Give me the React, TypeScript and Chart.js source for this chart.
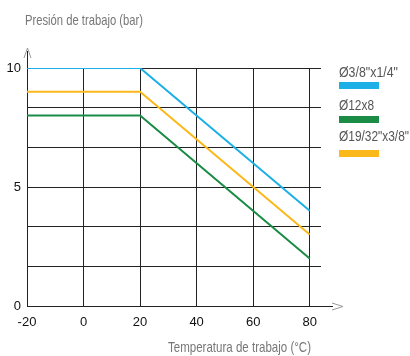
import React, { useEffect, useRef } from "react";
import { Chart, registerables } from "chart.js";

Chart.register(...registerables);

const temps = [-20, 20, 80];
const series1 = [10, 10, 4];
const series2 = [8, 8, 2];
const series3 = [9, 9, 3];
const seriesNames = ["Ø3/8\"x1/4\"", "Ø12x8", "Ø19/32\"x3/8\""];
const seriesColors = ["#1cb0e6", "#1a8c45", "#fbb81a"];
const xTicks = [-20, 0, 20, 40, 60, 80];
const yGrid = [0, 5 / 3, 10 / 3, 5, 20 / 3, 25 / 3, 10];
const yLabels = [0, 5, 10];
const yTitle = "Presión de trabajo (bar)";
const xTitle = "Temperatura de trabajo (°C)";

const SANS = "'Liberation Sans', Arial, sans-serif";

function condensedText(ctx: any, text: string, x: number, y: number, width: number, align: "left" | "right") {
  const w = ctx.measureText(text).width;
  const sx = width / w;
  ctx.save();
  ctx.translate(x, y);
  ctx.scale(sx, 1);
  ctx.textAlign = align;
  ctx.fillText(text, 0, 0);
  ctx.restore();
}

const decor = {
  id: "decor",
  afterDraw(chart: any) {
    const { ctx, chartArea } = chart;
    const { left, right, top, bottom } = chartArea;
    ctx.save();
    // axis extensions
    ctx.strokeStyle = "#222";
    ctx.lineWidth = 1;
    ctx.beginPath();
    ctx.moveTo(left + 0.5, top);
    ctx.lineTo(left + 0.5, top - 17);
    ctx.moveTo(right, bottom + 0.5);
    ctx.lineTo(right + 12, bottom + 0.5);
    ctx.stroke();
    ctx.strokeStyle = "#999";
    ctx.beginPath();
    ctx.moveTo(left - 3, top - 10);
    ctx.lineTo(left + 0.5, top - 20);
    ctx.lineTo(left + 4, top - 10);
    ctx.moveTo(right + 11, bottom - 3);
    ctx.lineTo(right + 22, bottom + 0.5);
    ctx.lineTo(right + 11, bottom + 4);
    ctx.stroke();
    // titles
    ctx.fillStyle = "#777";
    ctx.font = "15px " + SANS;
    ctx.textBaseline = "middle";
    condensedText(ctx, yTitle, 25, 21, 118, "left");
    condensedText(ctx, xTitle, 311, 348, 143, "right");
    // legend
    const barTops = [82, 116, 150];
    const textYs = [73, 106, 137];
    const textWidths = [59, 35, 70];
    ctx.font = "14px " + SANS;
    seriesNames.forEach((name, i) => {
      ctx.fillStyle = "#555";
      condensedText(ctx, name, 339, textYs[i], textWidths[i], "left");
      ctx.fillStyle = seriesColors[i];
      ctx.fillRect(339, barTops[i], 40, 7);
    });
    ctx.restore();
  },
};

export default function App() {
  const ref = useRef<HTMLCanvasElement>(null);
  useEffect(() => {
    const values = [series1, series2, series3];
    const chart = new Chart(ref.current as HTMLCanvasElement, {
      type: "line",
      data: {
        datasets: values.map((v, i) => ({
          label: seriesNames[i],
          data: temps.map((t, j) => ({ x: t, y: v[j] })),
          borderColor: seriesColors[i],
          backgroundColor: seriesColors[i],
          borderWidth: 2,
          pointRadius: 0,
          tension: 0,
          fill: false,
        })),
      },
      options: {
        responsive: false,
        animation: false,
        layout: { padding: { left: 0, top: 68, right: 89, bottom: 0 } },
        plugins: { legend: { display: false }, tooltip: { enabled: false }, title: { display: false } },
        scales: {
          x: {
            type: "linear",
            min: -20,
            max: 84,
            afterBuildTicks: (scale: any) => {
              scale.ticks = xTicks.map((v) => ({ value: v }));
            },
            afterFit: (scale: any) => {
              scale.height = 50;
            },
            grid: { color: "#222", lineWidth: 1, drawTicks: false },
            border: { color: "#222", width: 1 },
            ticks: {
              padding: 9,
              color: "#111",
              font: { family: SANS, size: 13 },
              maxRotation: 0,
              autoSkip: false,
            },
          },
          y: {
            type: "linear",
            min: 0,
            max: 10,
            afterBuildTicks: (scale: any) => {
              scale.ticks = yGrid.map((v) => ({ value: v }));
            },
            afterFit: (scale: any) => {
              scale.width = 27;
            },
            grid: { color: "#222", lineWidth: 1, drawTicks: false },
            border: { color: "#222", width: 1 },
            ticks: {
              padding: 6,
              color: "#111",
              font: { family: SANS, size: 13 },
              autoSkip: false,
              callback: (v: any) => {
                const m = yLabels.find((l) => Math.abs(l - Number(v)) < 1e-6);
                return m === undefined ? "" : String(m);
              },
            },
          },
        },
      },
      plugins: [decor],
    });
    return () => chart.destroy();
  }, []);
  return (
    <div style={{ position: "fixed", left: 0, top: 0, width: 410, height: 356, background: "#fff" }}>
      <canvas ref={ref} width={410} height={356} style={{ width: 410, height: 356 }} />
    </div>
  );
}
